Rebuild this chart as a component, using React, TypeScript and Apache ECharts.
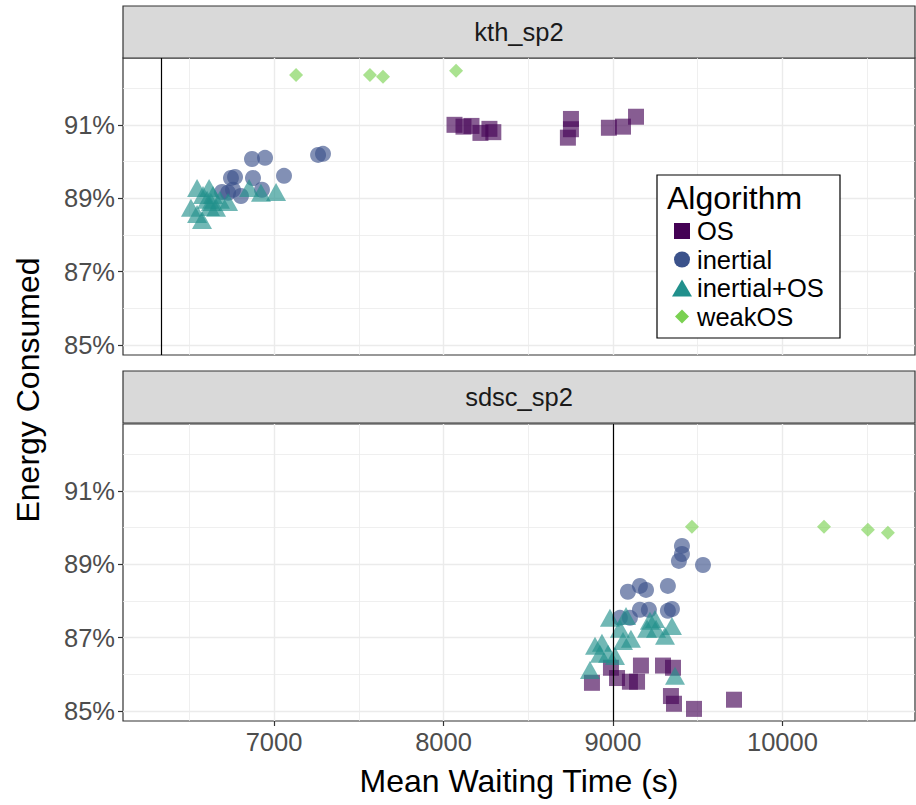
import React, { useEffect, useRef } from 'react';
import * as echarts from 'echarts';

// ---- data (Mean Waiting Time [s], Energy Consumed [%]) ----
const algorithms = ['OS', 'inertial', 'inertial+OS', 'weakOS'];
const facets = ['kth_sp2', 'sdsc_sp2'];

const xTickValues = [7000, 8000, 9000, 10000];
const xMinorValues = [6500, 7500, 8500, 9500, 10500];
const yTickValues = [85, 87, 89, 91];
const yMinorValues = [86, 88, 90, 92];
const xLimits = [6109, 10782];
const yLimits = [84.73, 92.82];
const referenceX = [6333, 9000];

const kthOS = [
  [8065, 91.0], [8118, 90.95], [8165, 90.97], [8218, 90.78], [8271, 90.89], [8294, 90.8],
  [8752, 91.16], [8752, 90.88], [8734, 90.65], [8976, 90.92], [9059, 90.95], [9136, 91.22],
];
const kthInertial = [
  [6870, 90.07], [6947, 90.1], [7260, 90.18], [7289, 90.21], [6746, 89.55], [6770, 89.58],
  [6876, 89.55], [7059, 89.61], [6693, 89.17], [6758, 89.23], [6805, 89.06], [6929, 89.23],
  [6729, 89.15],
];
const kthInertialOS = [
  [6546, 89.28], [6617, 89.28], [6581, 89.09], [6640, 89.09], [6510, 88.74], [6546, 88.57],
  [6575, 88.41], [6622, 88.76], [6658, 88.74], [6729, 88.9], [6853, 89.28], [6923, 89.15],
  [7012, 89.17], [6605, 88.96], [6628, 88.9], [6681, 88.96],
];
const kthWeakOS = [[7130, 92.36], [7566, 92.36], [7643, 92.31], [8074, 92.47]];

const sdscOS = [
  [8876, 85.77], [8988, 86.18], [9024, 85.9], [9100, 85.8], [9142, 85.8], [9165, 86.24],
  [9295, 86.24], [9354, 86.18], [9342, 85.41], [9360, 85.2], [9478, 85.06], [9714, 85.31],
];
const sdscInertial = [
  [9407, 89.5], [9407, 89.28], [9389, 89.09], [9531, 88.98], [9088, 88.25], [9159, 88.41],
  [9195, 88.3], [9324, 88.41], [9159, 87.76], [9212, 87.76], [9324, 87.73], [9348, 87.78],
  [9041, 87.54], [9100, 87.54],
];
const sdscInertialOS = [
  [8982, 87.54], [9077, 87.59], [9041, 87.24], [9059, 86.91], [9106, 86.97], [8894, 86.78],
  [8935, 86.86], [8923, 86.56], [8971, 86.56], [9012, 86.5], [8864, 86.12], [9218, 87.46],
  [9248, 87.51], [9201, 87.24], [9254, 87.24], [9348, 87.32], [9307, 87.05], [9366, 85.96],
];
const sdscWeakOS = [[9466, 90.02], [10245, 90.02], [10504, 89.94], [10622, 89.86]];

const facetData = [
  [kthOS, kthInertial, kthInertialOS, kthWeakOS],
  [sdscOS, sdscInertial, sdscInertialOS, sdscWeakOS],
];

// ---- styling ----
const colors = ['#440154', '#3B528B', '#21908C', '#7AD151'];
const fillColors = [
  'rgba(68,1,84,0.8)',
  'rgba(59,82,139,0.8)',
  'rgba(33,144,140,0.8)',
  'rgba(122,209,81,0.8)',
];
const symbols = ['rect', 'circle', 'triangle', 'diamond'];
const symbolSizes: any[] = [16, 16, [20, 18], [14, 14]];
const legendIcons = [
  'path://M0,0M20,20M2,2L18,2L18,18L2,18Z',
  'path://M0,0M20,20M2,10A8,8,0,1,1,18,10A8,8,0,1,1,2,10Z',
  'path://M0,0M20,20M0,18.5L10,1.5L20,18.5Z',
  'path://M0,0M20,20M3,10L10,3L17,10L10,17Z',
];

const FONT = '"Liberation Sans", Arial, Helvetica, sans-serif';
const GRID_LEFT = 123;
const GRID_WIDTH = 792;
const gridTops = [58, 424];
const GRID_HEIGHT = 297;
const stripTops = [6, 371];
const STRIP_HEIGHT = 52;

export default function App() {
  const ref = useRef<HTMLDivElement>(null);

  useEffect(() => {
    if (!ref.current) return;
    const chart = echarts.init(ref.current, undefined, { renderer: 'svg' });

    const grids = facets.map((_, i) => ({
      left: GRID_LEFT,
      top: gridTops[i],
      width: GRID_WIDTH,
      height: GRID_HEIGHT,
      show: true,
      backgroundColor: '#FFFFFF',
      borderColor: '#333333',
      borderWidth: 1.2,
      containLabel: false,
    }));

    const xAxes = facets.map((_, i) => ({
      type: 'value',
      gridIndex: i,
      min: xLimits[0],
      max: xLimits[1],
      axisLine: { show: false },
      splitLine: { show: false },
      axisTick: {
        show: i === 1,
        customValues: xTickValues,
        length: 5,
        lineStyle: { color: '#333333', width: 1.2 },
      },
      axisLabel: {
        show: i === 1,
        customValues: xTickValues,
        formatter: (v: number) => String(v),
        color: '#4D4D4D',
        fontSize: 25.5,
        fontFamily: FONT,
        margin: 8,
      },
    }));

    const yAxes = facets.map((_, i) => ({
      type: 'value',
      gridIndex: i,
      min: yLimits[0],
      max: yLimits[1],
      axisLine: { show: false },
      splitLine: { show: false },
      axisTick: {
        show: true,
        customValues: yTickValues,
        length: 5,
        lineStyle: { color: '#333333', width: 1.2 },
      },
      axisLabel: {
        show: true,
        customValues: yTickValues,
        formatter: (v: number) => String(v) + '%',
        color: '#4D4D4D',
        fontSize: 25.5,
        fontFamily: FONT,
        margin: 8,
      },
    }));

    const series: any[] = [];
    facets.forEach((_, i) => {
      const gridLines = [
        ...xMinorValues.map((v) => ({ xAxis: v, lineStyle: { color: '#EBEBEB', width: 0.8, type: 'solid' } })),
        ...yMinorValues.map((v) => ({ yAxis: v, lineStyle: { color: '#EBEBEB', width: 0.8, type: 'solid' } })),
        ...xTickValues.map((v) => ({ xAxis: v, lineStyle: { color: '#EBEBEB', width: 1.4, type: 'solid' } })),
        ...yTickValues.map((v) => ({ yAxis: v, lineStyle: { color: '#EBEBEB', width: 1.4, type: 'solid' } })),
      ];
      series.push({
        name: 'grid-' + i,
        type: 'scatter',
        xAxisIndex: i,
        yAxisIndex: i,
        data: [],
        z: 1,
        silent: true,
        markLine: {
          z: 1,
          silent: true,
          animation: false,
          symbol: ['none', 'none'],
          label: { show: false },
          emphasis: { disabled: true },
          data: gridLines,
        },
      });
      algorithms.forEach((alg, k) => {
        series.push({
          name: alg,
          type: 'scatter',
          xAxisIndex: i,
          yAxisIndex: i,
          data: facetData[i][k],
          symbol: symbols[k],
          symbolSize: symbolSizes[k],
          itemStyle: { color: fillColors[k] },
          z: 2,
          emphasis: { disabled: true },
        });
      });
      series.push({
        name: 'ref-' + i,
        type: 'scatter',
        xAxisIndex: i,
        yAxisIndex: i,
        data: [],
        z: 3,
        silent: true,
        markLine: {
          z: 3,
          silent: true,
          animation: false,
          symbol: ['none', 'none'],
          label: { show: false },
          emphasis: { disabled: true },
          data: [{ xAxis: referenceX[i], lineStyle: { color: '#000000', width: 1.2, type: 'solid' } }],
        },
      });
    });

    const graphic: any[] = [];
    facets.forEach((f, i) => {
      graphic.push({
        type: 'rect',
        z: 1,
        shape: { x: GRID_LEFT, y: stripTops[i], width: GRID_WIDTH, height: STRIP_HEIGHT },
        style: { fill: '#D9D9D9', stroke: '#333333', lineWidth: 1.2 },
      });
      graphic.push({
        type: 'text',
        z: 2,
        x: GRID_LEFT + GRID_WIDTH / 2,
        y: stripTops[i] + STRIP_HEIGHT / 2,
        style: {
          text: f,
          fill: '#1A1A1A',
          fontSize: 25.5,
          fontFamily: FONT,
          align: 'center',
          verticalAlign: 'middle',
        },
      });
    });
    graphic.push({
      type: 'rect',
      z: 6,
      shape: { x: 657, y: 175, width: 183, height: 163 },
      style: { fill: '#FFFFFF', stroke: '#000000', lineWidth: 1.2 },
    });
    graphic.push({
      type: 'text',
      z: 7,
      x: 667,
      y: 198,
      style: {
        text: 'Algorithm',
        fill: '#000000',
        fontSize: 32,
        fontFamily: FONT,
        align: 'left',
        verticalAlign: 'middle',
      },
    });
    graphic.push({
      type: 'text',
      z: 2,
      x: GRID_LEFT + GRID_WIDTH / 2,
      y: 781,
      style: {
        text: 'Mean Waiting Time (s)',
        fill: '#000000',
        fontSize: 32,
        fontFamily: FONT,
        align: 'center',
        verticalAlign: 'middle',
      },
    });
    graphic.push({
      type: 'text',
      z: 2,
      x: 28,
      y: 390,
      rotation: Math.PI / 2,
      style: {
        text: 'Energy Consumed',
        fill: '#000000',
        fontSize: 32,
        fontFamily: FONT,
        align: 'center',
        verticalAlign: 'middle',
      },
    });

    chart.setOption({
      animation: false,
      backgroundColor: '#FFFFFF',
      grid: grids,
      xAxis: xAxes,
      yAxis: yAxes,
      series,
      graphic,
      legend: {
        data: algorithms.map((a, k) => ({
          name: a,
          icon: legendIcons[k],
          itemStyle: { color: colors[k], opacity: 1 },
        })),
        orient: 'vertical',
        left: 672,
        top: 218,
        itemWidth: 20,
        itemHeight: 20,
        itemGap: 2.5,
        padding: 0,
        selectedMode: false,
        z: 8,
        textStyle: { fontSize: 25.5, color: '#000000', fontFamily: FONT },
      },
    });

    return () => {
      chart.dispose();
    };
  }, []);

  return (
    <div
      ref={ref}
      style={{ position: 'absolute', left: 0, top: 0, width: 916, height: 805, background: '#FFFFFF' }}
    />
  );
}
